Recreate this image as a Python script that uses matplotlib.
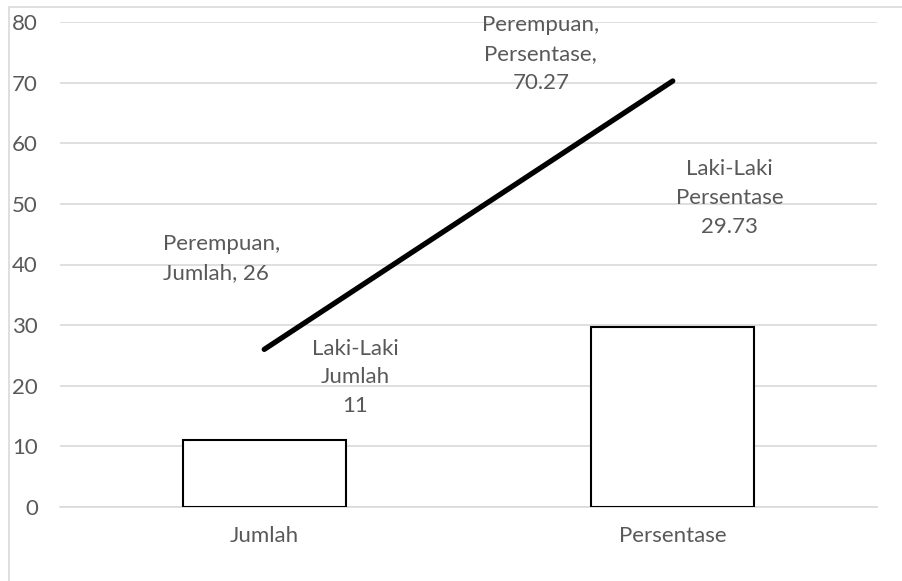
import matplotlib
matplotlib.use("Agg")
import matplotlib.pyplot as plt
from matplotlib.patches import Rectangle

categories = ["Jumlah", "Persentase"]
laki_laki = [11, 29.73]
perempuan = [26, 70.27]
y_ticks = [0, 10, 20, 30, 40, 50, 60, 70, 80]

plt.rcParams["font.family"] = ["Lato", "DejaVu Sans"]
TEXT = "#595959"
GRID = "#d9d9d9"
FS = 16

W, H = 902, 581
fig = plt.figure(figsize=(W / 100, H / 100), dpi=100)
fig.patch.set_facecolor("white")

# chart-area border
fig.patches.append(Rectangle((9 / W, -0.1), 1.2, (H - 7) / H + 0.1,
                             transform=fig.transFigure, fill=False,
                             edgecolor=GRID, linewidth=1.2))

ax = fig.add_axes([60 / W, (H - 507) / H, (877 - 60) / W, (507 - 22) / H])
x = list(range(len(categories)))

ax.bar(x, laki_laki, width=0.4, facecolor="white", edgecolor="black",
       linewidth=1.5, zorder=3)
ax.plot(x, perempuan, color="black", linewidth=3.8, solid_capstyle="round",
        zorder=4)

ax.set_xlim(-0.5, 1.5)
ax.set_ylim(0, 80)
ax.set_yticks(y_ticks)
ax.set_xticks(x)
ax.set_xticklabels(categories)
ax.tick_params(axis="both", length=0, labelsize=FS, labelcolor=TEXT)
ax.tick_params(axis="y", pad=16)
ax.tick_params(axis="x", pad=14)
ax.grid(axis="y", color=GRID, linewidth=1.2, zorder=0)
for side in ["top", "right", "left"]:
    ax.spines[side].set_visible(False)
ax.spines["bottom"].set_color(GRID)
ax.spines["bottom"].set_linewidth(1.2)

lbl = dict(textcoords="offset pixels", fontsize=FS, color=TEXT,
           linespacing=1.55, va="center")
ax.annotate(f"Perempuan,\n{categories[0]}, {perempuan[0]:g}",
            xy=(0, perempuan[0]), xytext=(-101, 91), ha="left",
            multialignment="left", **lbl)
ax.annotate(f"Perempuan,\n{categories[1]},\n{perempuan[1]:.2f}",
            xy=(1, perempuan[1]), xytext=(-132, 27), ha="center",
            multialignment="center", **lbl)
ax.annotate(f"Laki-Laki\n{categories[0]}\n{laki_laki[0]:g}",
            xy=(0, laki_laki[0]), xytext=(91, 63), ha="center",
            multialignment="center", **lbl)
ax.annotate(f"Laki-Laki\n{categories[1]}\n{laki_laki[1]:.2f}",
            xy=(1, laki_laki[1]), xytext=(57, 129), ha="center",
            multialignment="center", **lbl)

fig.savefig("out.png", dpi=100)
